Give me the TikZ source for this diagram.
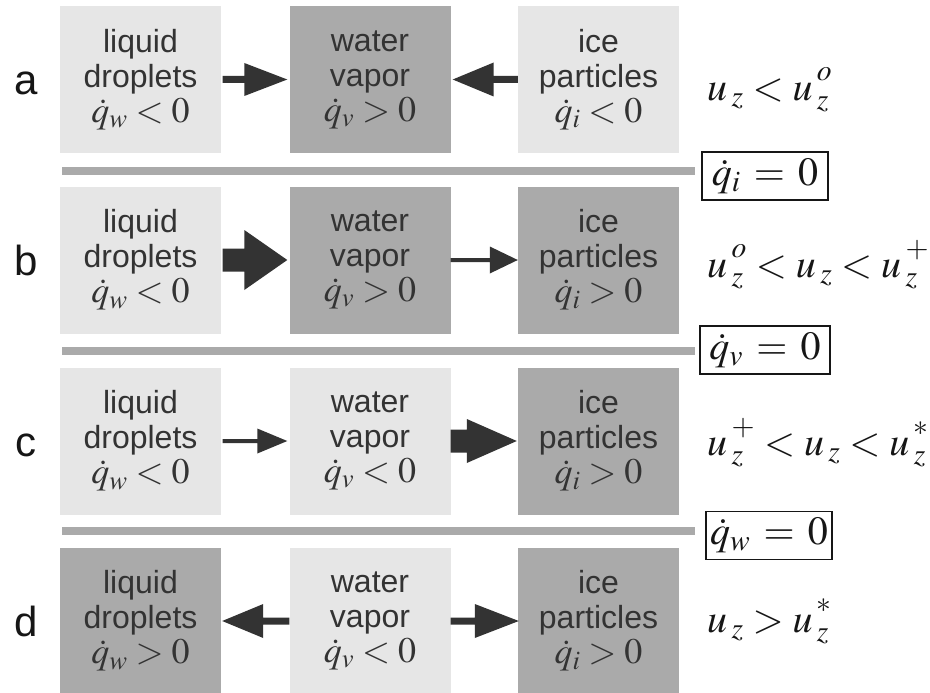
\documentclass[tikz,border=0pt]{standalone}
\usepackage{mathptmx}
\usepackage[no-math]{fontspec}
\setmainfont{Liberation Sans}
\usetikzlibrary{calc}
\definecolor{lightfill}{HTML}{E6E6E6}
\definecolor{darkfill}{HTML}{AAAAAA}
\definecolor{txtgray}{HTML}{333333}
\definecolor{arrowfill}{HTML}{333333}
\definecolor{sepgray}{HTML}{AAAAAA}
\definecolor{inkblack}{HTML}{161616}
\newcommand\mline[1]{{\fontsize{36}{35}\selectfont$#1$}}
\newcommand\uz{u{\,}}
\newcommand\uzs[1]{u{\,}_z^{\raisebox{5pt}{$\scriptstyle #1$}}}
\tikzset{
  lbox/.style={fill=lightfill, minimum width=161pt, minimum height=147pt, inner sep=0pt,
    align=center, text=txtgray, font=\fontsize{32}{35}\selectfont},
  dbox/.style={lbox, fill=darkfill},
  rowlabel/.style={anchor=base, inner sep=0pt, text=inkblack, font=\fontsize{42}{42}\selectfont},
  condlabel/.style={anchor=base west, inner sep=0pt, text=inkblack, font=\fontsize{40}{40}\selectfont},
  zerobox/.style={draw=inkblack, line width=1.2pt, minimum width=126pt, minimum height=48pt,
    inner sep=0pt, text=inkblack, font=\fontsize{40}{40}\selectfont},
  sepline/.style={draw=sepgray, line width=8pt}
}
% horizontal block arrow: start, end, half shaft, head length, half head width
\newcommand\flowarrow[5]{%
  \fill[arrowfill] let \p1=(#1), \p2=(#2), \n1={sign(\x2-\x1)} in
   (\x1,\y1+#3) -- (\x2-\n1*#4,\y1+#3) -- (\x2-\n1*#4,\y1+#5) -- (\x2,\y1)
   -- (\x2-\n1*#4,\y1-#5) -- (\x2-\n1*#4,\y1-#3) -- (\x1,\y1-#3) -- cycle;}
\begin{document}
\begin{tikzpicture}[x=1pt,y=-1pt]
\useasboundingbox (0,0) rectangle (930,693);
\fill[white] (0,0) rectangle (930,693);

% row a
\node[lbox] (a1) at (140.5,79.5) {liquid\\droplets\\\mline{\dot{q}_w<0}};
\node[dbox] (a2) at (370,79.5) {water\\vapor\\\mline{\dot{q}_v>0}};
\node[lbox] (a3) at (598.5,79.5) {ice\\particles\\\mline{\dot{q}_i<0}};
% row b
\node[lbox] (b1) at (140.5,260) {liquid\\droplets\\\mline{\dot{q}_w<0}};
\node[dbox] (b2) at (370,260) {water\\vapor\\\mline{\dot{q}_v>0}};
\node[dbox] (b3) at (598.5,260) {ice\\particles\\\mline{\dot{q}_i>0}};
% row c
\node[lbox] (c1) at (140.5,441) {liquid\\droplets\\\mline{\dot{q}_w<0}};
\node[lbox] (c2) at (370,441) {water\\vapor\\\mline{\dot{q}_v<0}};
\node[dbox] (c3) at (598.5,441) {ice\\particles\\\mline{\dot{q}_i>0}};
% row d
\node[dbox] (d1) at (140.5,621) {liquid\\droplets\\\mline{\dot{q}_w>0}};
\node[lbox] (d2) at (370,621) {water\\vapor\\\mline{\dot{q}_v<0}};
\node[dbox] (d3) at (598.5,621) {ice\\particles\\\mline{\dot{q}_i>0}};

% row letters
\node[rowlabel] (la) at (26,95) {a};
\node[rowlabel] (lb) at (26,275) {b};
\node[rowlabel] (lc) at (26,456) {c};
\node[rowlabel] (ld) at (26,636) {d};

% arrows
\flowarrow{$(a1.east)+(1.5,0)$}{$(a2.west)+(-2,0)$}{3.5pt}{43pt}{16.5pt}
\flowarrow{a3.west}{$(a2.east)+(2,0)$}{3.5pt}{41pt}{17pt}
\flowarrow{$(b1.east)+(1.5,0)$}{$(b2.west)+(-2,0)$}{11.5pt}{43pt}{30pt}
\flowarrow{b2.east}{b3.west}{2pt}{28pt}{13.5pt}
\flowarrow{$(c1.east)+(1.5,0)$}{$(c2.west)+(-2,0)$}{2pt}{30pt}{12.5pt}
\flowarrow{c2.east}{$(c3.west)+(-1,0)$}{11.5pt}{50pt}{22pt}
\flowarrow{d2.west}{$(d1.east)+(1,0)$}{3.5pt}{41pt}{17pt}
\flowarrow{d2.east}{$(d3.west)+(1,0)$}{3.5pt}{44pt}{17pt}

% separators
\draw[sepline] (62,171) -- (695,171);
\draw[sepline] (62,351) -- (695,351);
\draw[sepline] (62,531) -- (695,531);

% boxed conditions
\node[zerobox] (zi) at (765,176) {$\dot{q}_i\,=\,0$};
\node[zerobox, minimum width=130pt] (zv) at (765,350) {$\dot{q}_v\,=\,0$};
\node[zerobox] (zw) at (769,535.5) {$\dot{q}_w\,=\,0$};

% regime conditions
\node[condlabel] (ca) at (707,100) {$\uz_z<\uzs{o}$};
\node[condlabel] (cb) at (707,277) {$\uzs{o}<\uz_z<\uzs{+}$};
\node[condlabel] (cc) at (707,455) {$\uzs{+}<\uz_z<\uzs{*}$};
\node[condlabel] (cd) at (707,632) {$\uz_z>\uzs{*}$};
\end{tikzpicture}
\end{document}
